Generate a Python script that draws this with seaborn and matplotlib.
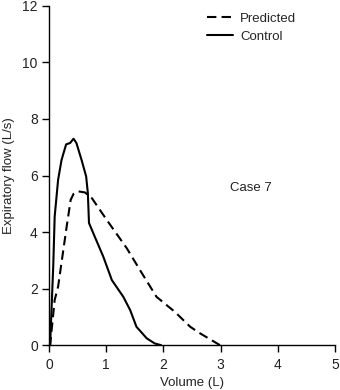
import matplotlib
matplotlib.use("Agg")
import matplotlib.pyplot as plt
import seaborn as sns
import pandas as pd

# Data
control_vol = [0.0, 0.02, 0.075, 0.10, 0.16, 0.22, 0.30, 0.37, 0.43, 0.48, 0.57, 0.65, 0.68, 0.70, 0.80, 0.95, 1.10, 1.30, 1.42, 1.53, 1.71, 1.85, 1.96]
control_flow = [0.0, 0.0, 2.8, 4.55, 5.85, 6.55, 7.1, 7.15, 7.3, 7.15, 6.55, 5.97, 5.38, 4.32, 3.84, 3.13, 2.3, 1.71, 1.24, 0.65, 0.24, 0.06, 0.0]
pred_vol = [0.0, 0.02, 0.10, 0.16, 0.31, 0.38, 0.43, 0.51, 0.63, 0.75, 1.01, 1.36, 1.59, 1.88, 2.20, 2.47, 2.64, 2.99]
pred_flow = [0.0, 0.0, 1.6, 2.07, 4.2, 5.14, 5.35, 5.44, 5.4, 5.2, 4.43, 3.43, 2.66, 1.71, 1.18, 0.65, 0.42, 0.0]
x_ticks = [0, 1, 2, 3, 4, 5]
y_ticks = [0, 2, 4, 6, 8, 10, 12]

sns.set_theme(style="ticks")
plt.rcParams['font.family'] = ['Liberation Sans', 'DejaVu Sans']

df_c = pd.DataFrame({"vol": control_vol, "flow": control_flow})
df_p = pd.DataFrame({"vol": pred_vol, "flow": pred_flow})

fig = plt.figure(figsize=(3.4, 3.9), dpi=100)
ax = fig.add_axes([0.144, 0.115, 0.841, 0.87])

sns.lineplot(data=df_p, x="vol", y="flow", sort=False, ax=ax, color="black",
             lw=1.5, label="Predicted", linestyle=(0, (4.5, 2.5)))
sns.lineplot(data=df_c, x="vol", y="flow", sort=False, ax=ax, color="black",
             lw=1.5, label="Control")

ax.set_xlim(0, 5)
ax.set_ylim(0, 12)
ax.set_xticks(x_ticks)
ax.set_yticks(y_ticks)
ax.set_xlabel("Volume (L)", fontsize=9.5, labelpad=4, color="#222222")
ax.set_ylabel("Expiratory flow (L/s)", fontsize=9.5, labelpad=5, color="#222222")
ax.tick_params(labelsize=10, length=5, width=1, color="black", pad=3, labelcolor="#222222")
ax.tick_params(axis="x", pad=4)
for s in ["top", "right"]:
    ax.spines[s].set_visible(False)
for s in ["left", "bottom"]:
    ax.spines[s].set_linewidth(1.0)
    ax.spines[s].set_color("black")

ax.text(3.53, 5.57, "Case 7", fontsize=9.5, ha="center", va="center", color="#222222")
leg = ax.legend(loc="upper left", bbox_to_anchor=(0.552, 0.98), frameon=False,
                fontsize=9.5, handlelength=2.0, handletextpad=0.53, labelspacing=0.45,
                borderpad=0, borderaxespad=0)

fig.savefig("out.png", dpi=100)
